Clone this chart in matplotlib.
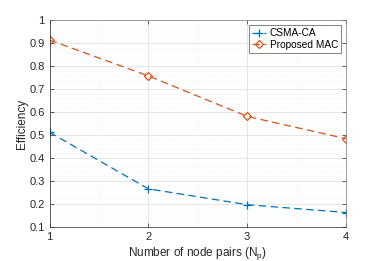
import matplotlib
matplotlib.use('Agg')
import matplotlib.pyplot as plt
from matplotlib.ticker import MultipleLocator

plt.rcParams['font.family'] = ['Liberation Sans', 'DejaVu Sans']

node_pairs = [1, 2, 3, 4]
csma_ca = [0.512, 0.266, 0.197, 0.163]
proposed_mac = [0.913, 0.757, 0.581, 0.484]

fig = plt.figure(figsize=(3.82, 2.61), dpi=100)
ax = fig.add_axes([49.5 / 382, 1 - 227 / 261, (346 - 49.5) / 382, (227 - 20) / 261])

ax.plot(node_pairs, csma_ca, linestyle=(0, (6, 3.5)), color='#0072BD', linewidth=0.9,
        marker='+', markersize=5.5, markeredgewidth=0.9, label='CSMA-CA')
ax.plot(node_pairs, proposed_mac, linestyle=(0, (6, 3.5)), color='#D95319', linewidth=0.9,
        marker='D', markersize=4, markerfacecolor='none', markeredgewidth=0.9,
        label='Proposed MAC')

ax.set_xlim(1, 4)
ax.set_ylim(0.1, 1)
ax.set_xticks(node_pairs)
ax.yaxis.set_major_locator(MultipleLocator(0.1))
ax.yaxis.set_major_formatter(lambda v, p: f'{v:g}')
ax.xaxis.set_minor_locator(MultipleLocator(0.5))
ax.yaxis.set_minor_locator(MultipleLocator(0.02))

ax.grid(which='major', color='#dcdcdc', linewidth=0.5)
ax.grid(which='minor', color='#ececec', linewidth=0.4, linestyle=':')
ax.set_axisbelow(True)

for s in ax.spines.values():
    s.set_color('#262626')
    s.set_linewidth(0.5)
ax.spines['top'].set_color('#7f7f7f')
ax.spines['right'].set_color('#7f7f7f')
ax.tick_params(which='both', direction='in', colors='#262626', labelsize=8,
               top=True, right=True, width=0.5)
ax.tick_params(which='major', length=3)
ax.tick_params(which='minor', length=0)

ax.set_xlabel('Number of node pairs (N$_\\mathregular{p}$)', fontsize=8.5, color='#262626', labelpad=2)
ax.set_ylabel('Efficiency', fontsize=8.5, color='#262626', labelpad=1)

leg = ax.legend(loc='upper right', fontsize=7.3, frameon=True, fancybox=False,
                edgecolor='#262626', borderpad=0.3, handlelength=1.4,
                handletextpad=0.3, labelspacing=0.15, borderaxespad=0.5)
leg.get_frame().set_linewidth(0.5)

fig.savefig('out.png', dpi=100)
